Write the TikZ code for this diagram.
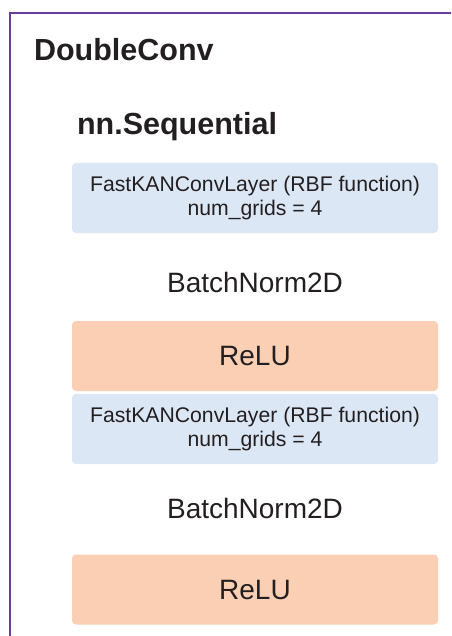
\documentclass[tikz,border=0pt]{standalone}
\usepackage{fontspec}
\setmainfont{Liberation Sans}
\definecolor{framepurple}{HTML}{6A3D9A}
\definecolor{kanblue}{HTML}{DCE7F5}
\definecolor{relupeach}{HTML}{FBCFB3}
\definecolor{txt}{HTML}{231F20}
\begin{document}
\begin{tikzpicture}[x=1pt,y=-1pt,
  every node/.style={text=txt,inner sep=0pt,outer sep=0pt},
  layerbox/.style={minimum width=366pt,minimum height=70pt,rounded corners=4pt,align=center},
  kanbox/.style={layerbox,fill=kanblue,font=\fontsize{21.2}{24}\selectfont},
  relubox/.style={layerbox,fill=relupeach,font=\fontsize{28}{32}\selectfont},
  title/.style={font=\bfseries\fontsize{30.5}{34}\selectfont,anchor=base west},
  plain/.style={font=\fontsize{28}{32}\selectfont,anchor=base}
]
\useasboundingbox (0,0) rectangle (451,636);
\coordinate (fb) at (10,636);
\coordinate (fc) at (10,13);
\coordinate (fr) at (451,13);
\draw[framepurple,line width=2.5pt] (fb) -- (fc) -- (fr);

\node[title] (dc) at (34,61) {DoubleConv};
\node[title] (seq) at (77,135) {nn.Sequential};

\node[kanbox] (k1) at (255,198) {FastKANConvLayer (RBF function)\\num\_grids = 4};
\node[plain] (b1) at (255,292) {BatchNorm2D};
\node[relubox] (r1) at (255,356) {ReLU};
\node[kanbox] (k2) at (255,429) {FastKANConvLayer (RBF function)\\num\_grids = 4};
\node[plain] (b2) at (255,518) {BatchNorm2D};
\node[relubox] (r2) at (255,589.5) {ReLU};
\end{tikzpicture}
\end{document}
